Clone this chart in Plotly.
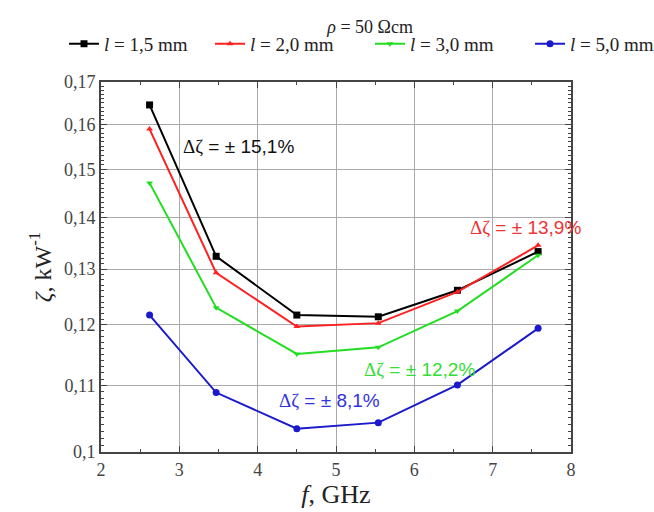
import math
import plotly.graph_objects as go

freq = [2.62, 3.47, 4.5, 5.54, 6.55, 7.58]
zeta_15 = [0.1645, 0.1324, 0.1217, 0.1214, 0.1261, 0.1333]
zeta_20 = [0.1589, 0.1293, 0.1197, 0.1203, 0.1258, 0.1345]
zeta_30 = [0.1471, 0.1230, 0.1151, 0.1162, 0.1224, 0.1326]
zeta_50 = [0.1217, 0.1089, 0.1034, 0.1043, 0.1101, 0.1194]
names = ["<i>l</i> = 1,5 mm", "<i>l</i> = 2,0 mm", "<i>l</i> = 3,0 mm", "<i>l</i> = 5,0 mm"]
colors = ["#000000", "#ff2020", "#22dd22", "#1a1acc"]
symbols = ["square", "triangle-up", "triangle-down", "circle"]
sizes = [7, 6, 6, 7]
yticks = [0.1, 0.11, 0.12, 0.13, 0.14, 0.15, 0.16, 0.17]
yticktext = ["0,1", "0,11", "0,12", "0,13", "0,14", "0,15", "0,16", "0,17"]
xticks = [2, 3, 4, 5, 6, 7, 8]

serif = "Liberation Serif"
sans = "Liberation Sans"

legend_ids = ["legend", "legend2", "legend3", "legend4"]
legend_x = [-0.0787, 0.2319, 0.5723, 0.9128]

fig = go.Figure()
for ys, nm, c, s, sz, lg in zip([zeta_15, zeta_20, zeta_30, zeta_50], names, colors, symbols, sizes, legend_ids):
    fig.add_trace(go.Scatter(x=freq, y=ys, name=nm, mode="lines+markers",
                             line=dict(color=c, width=2), legend=lg, showlegend=True,
                             marker=dict(color=c, symbol=s, size=sz)))

annots = [
    (3.76, 0.1549, "± 15,1%", "#111111"),
    (7.42, 0.1379, "± 13,9%", "#ee3333"),
    (6.07, 0.1125, "± 12,2%", "#33dd33"),
    (4.92, 0.1077, "± 8,1%", "#3333dd"),
]
for x, y, t, c in annots:
    fig.add_annotation(x=x, y=math.log10(y), yref="y", xref="x",
                       text=f"<span style='font-family:{serif}'>Δζ</span> = {t}",
                       showarrow=False, font=dict(family=sans, size=19, color=c))

legend_common = dict(orientation="h", xanchor="left", y=1.103, yanchor="middle",
                     font=dict(family=serif, size=19, color="#222"),
                     itemwidth=30, tracegroupgap=0, bgcolor="rgba(0,0,0,0)")
layout_legends = {lg: dict(x=lx, **legend_common) for lg, lx in zip(legend_ids, legend_x)}

fig.update_layout(
    width=654, height=512,
    margin=dict(l=101, r=83, t=82, b=60, autoexpand=False),
    paper_bgcolor="white", plot_bgcolor="white",
    showlegend=True,
    title=dict(text="<i>ρ</i> = 50 Ωcm", x=0.566, xanchor="center", y=0.948, yanchor="middle",
               font=dict(family=serif, size=18, color="#222")),
    font=dict(family=serif, color="#222"),
    **layout_legends,
)
fig.update_xaxes(range=[2, 8], tickvals=xticks, ticks="inside", ticklen=6,
                 showgrid=True, gridcolor="#aaa", gridwidth=1,
                 showline=True, linecolor="#444", linewidth=2, mirror="ticks",
                 minor=dict(dtick=0.5, ticks="inside", ticklen=3, showgrid=False),
                 tickfont=dict(family=serif, size=18, color="#444"),
                 title=dict(text="<i>f</i>, GHz", font=dict(family=serif, size=26), standoff=4),
                 zeroline=False)
fig.update_yaxes(type="log", range=[-1, 0.2304489 - 1], tickvals=yticks, ticktext=yticktext,
                 ticks="inside", ticklen=6,
                 showgrid=True, gridcolor="#aaa", gridwidth=1,
                 showline=True, linecolor="#444", linewidth=2, mirror="ticks",
                 minor=dict(tickvals=[0.1 + 0.001 * i for i in range(71)], ticks="inside", ticklen=3, showgrid=False),
                 tickfont=dict(family=serif, size=18, color="#444"),
                 title=dict(text="<i>ζ</i>, kW<sup>-1</sup>", font=dict(family=serif, size=24), standoff=6),
                 zeroline=False)

fig.write_html("out.html")
